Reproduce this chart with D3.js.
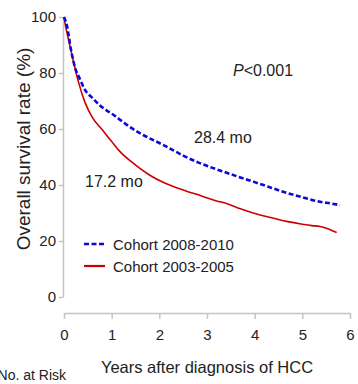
<!DOCTYPE html>
<html>
<head>
<meta charset="utf-8">
<script src="https://cdn.jsdelivr.net/npm/d3@7"></script>
<style>
  body { margin: 0; background: #fff; }
  svg { font-family: "Liberation Sans", Arial, sans-serif; }
</style>
</head>
<body>
<div id="chart"></div>
<script>
// survival curves (years, %)
const yearsNew = [0, 0.06, 0.15, 0.23, 0.33, 0.44, 0.6, 0.75, 0.86, 1.0, 1.2, 1.42, 1.7, 2.0, 2.15, 2.5, 2.85, 3.1, 3.41, 3.7, 3.97, 4.3, 4.67, 5.0, 5.37, 5.6, 5.79];
const survNew  = [100, 97, 88, 82, 78, 74, 71, 68.5, 67, 65.5, 63, 60.3, 57.5, 55, 53.7, 50.5, 47.8, 46.2, 44.4, 42.7, 41.2, 39.3, 37.2, 35.6, 34, 33.4, 32.8];
const yearsOld = [0, 0.03, 0.08, 0.16, 0.3, 0.44, 0.6, 0.79, 1.0, 1.17, 1.4, 1.8, 2.1, 2.5, 2.9, 3.2, 3.41, 3.7, 3.97, 4.3, 4.67, 5.0, 5.2, 5.37, 5.55, 5.72];
const survOld  = [100, 97, 93, 87, 77, 69.5, 64, 60, 55.5, 52, 48.5, 43.5, 40.8, 38.2, 36, 34.3, 33.4, 31.5, 30, 28.5, 27, 26, 25.5, 25.2, 24.3, 23];

const xTicks = [0, 1, 2, 3, 4, 5, 6];
const yTicks = [0, 20, 40, 60, 80, 100];
const legendLabels = ["Cohort 2008-2010", "Cohort 2003-2005"];

const width = 358, height = 384;

const svg = d3.select("#chart").append("svg")
  .attr("width", width)
  .attr("height", height);

const x = d3.scaleLinear().domain([0, 6]).range([64, 350]);
const y = d3.scaleLinear().domain([0, 100]).range([297, 17]);

const axisColor = "#c4c4c4";
const textColor = "#222";

// y axis
const yAxis = svg.append("g")
  .attr("transform", "translate(63,0)")
  .call(d3.axisLeft(y).tickValues(yTicks).tickSize(4).tickSizeOuter(0).tickPadding(3));
yAxis.select(".domain").attr("stroke", axisColor).attr("stroke-width", 1.5);
yAxis.selectAll(".tick line").attr("stroke", axisColor).attr("stroke-width", 1.5);
yAxis.selectAll(".tick text").attr("fill", textColor)
  .style("font-size", "15px").style("font-family", "Liberation Sans, Arial, sans-serif");

// x axis
const xAxis = svg.append("g")
  .attr("transform", "translate(0,313)")
  .call(d3.axisBottom(x).tickValues(xTicks).tickFormat(d3.format("d"))
    .tickSize(6).tickSizeOuter(0).tickPadding(10));
xAxis.select(".domain").attr("stroke", axisColor).attr("stroke-width", 1.5);
xAxis.selectAll(".tick line").attr("stroke", axisColor).attr("stroke-width", 1.5);
xAxis.selectAll(".tick text").attr("fill", textColor)
  .style("font-size", "15px").style("font-family", "Liberation Sans, Arial, sans-serif");

// axis titles
svg.append("text")
  .attr("transform", "translate(30,149) rotate(-90)")
  .attr("text-anchor", "middle")
  .attr("fill", textColor)
  .style("font-size", "19px")
  .text("Overall  survival rate (%)");

svg.append("text")
  .attr("x", 207).attr("y", 373)
  .attr("text-anchor", "middle")
  .attr("fill", textColor)
  .style("font-size", "16.5px")
  .text("Years after diagnosis of HCC");

svg.append("text")
  .attr("x", 66).attr("y", 380)
  .attr("text-anchor", "end")
  .attr("fill", textColor)
  .style("font-size", "14px")
  .text("No. at Risk");

// curves
const line = d3.line()
  .x(d => x(d[0]))
  .y(d => y(d[1]))
  .curve(d3.curveMonotoneX);

const newData = yearsNew.map((t, i) => [t, survNew[i]]);
const oldData = yearsOld.map((t, i) => [t, survOld[i]]);

svg.append("path")
  .datum(oldData)
  .attr("d", line)
  .attr("fill", "none")
  .attr("stroke", "#cc0000")
  .attr("stroke-width", 1.6);

svg.append("path")
  .datum(newData)
  .attr("d", line)
  .attr("fill", "none")
  .attr("stroke", "#0a0ad8")
  .attr("stroke-width", 2.6)
  .attr("stroke-dasharray", "5,2.5");

// annotations
svg.append("text")
  .attr("x", 233).attr("y", 76)
  .attr("fill", textColor)
  .style("font-size", "16px")
  .html('<tspan font-style="italic">P</tspan>&lt;0.001');

svg.append("text")
  .attr("x", 194).attr("y", 143)
  .attr("fill", textColor)
  .style("font-size", "16px")
  .text("28.4 mo");

svg.append("text")
  .attr("x", 85).attr("y", 187)
  .attr("fill", textColor)
  .style("font-size", "16px")
  .text("17.2 mo");

// legend
const legend = svg.append("g");
const legendStyles = [
  { color: "#0a0ad8", width: 2.6, dash: "5,2.5" },
  { color: "#cc0000", width: 2.2, dash: null }
];
legendLabels.forEach((lab, i) => {
  const ly = 244 + i * 22;
  legend.append("line")
    .attr("x1", 84).attr("x2", 105)
    .attr("y1", ly).attr("y2", ly)
    .attr("stroke", legendStyles[i].color)
    .attr("stroke-width", legendStyles[i].width)
    .attr("stroke-dasharray", legendStyles[i].dash);
  legend.append("text")
    .attr("x", 113).attr("y", ly + 5.5)
    .attr("fill", textColor)
    .style("font-size", "15px")
    .text(lab);
});
</script>
</body>
</html>
